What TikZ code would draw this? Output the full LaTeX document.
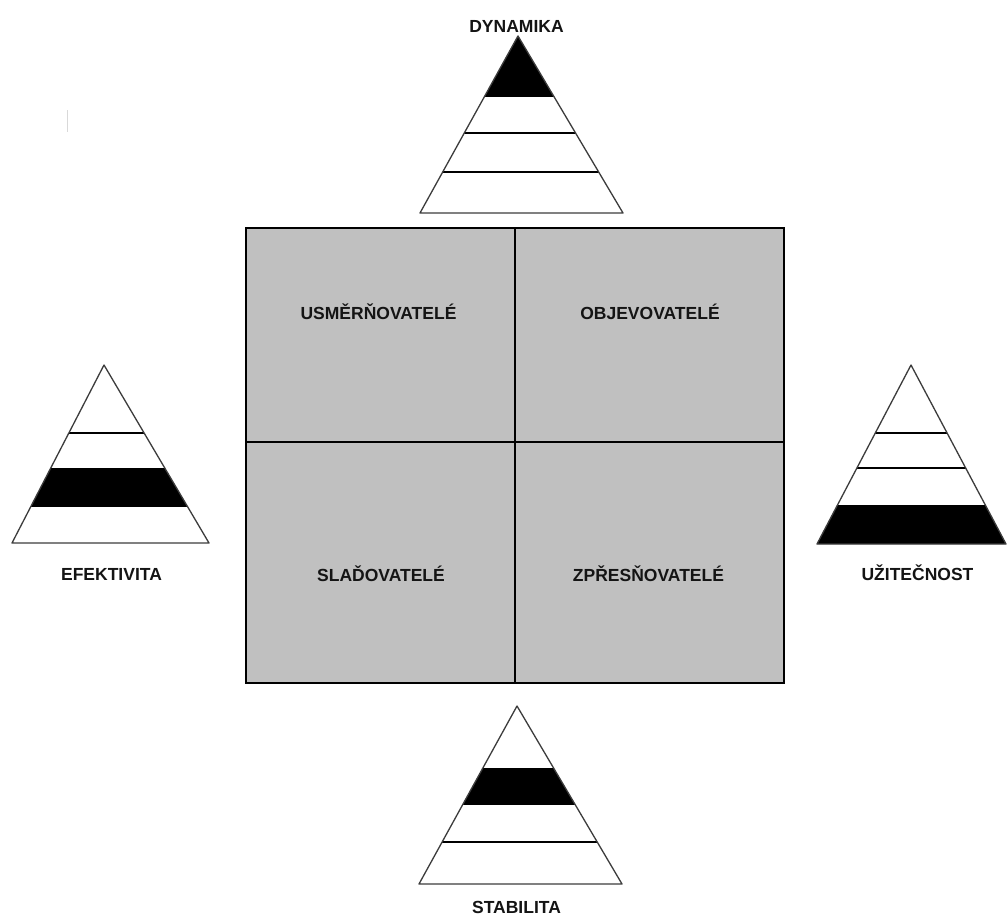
\documentclass[tikz,border=0pt]{standalone}
\usepackage{fontspec}
\setmainfont{Liberation Sans}
\definecolor{boxgray}{RGB}{192,192,192}
\definecolor{tri}{RGB}{60,60,60}
\begin{document}
\begin{tikzpicture}[x=1pt,y=-1pt,
  lbl/.style={font=\fontsize{17.5}{20}\selectfont\bfseries, inner sep=0pt, anchor=base, text=black!92},
  triline/.style={draw=tri, line width=1.3pt, line join=round},
  band/.style={line width=1.5pt, black}]
\useasboundingbox (0,0) rectangle (1007,918);
\fill[white] (0,0) rectangle (1007,918);
% faint mark
\draw[black!15, line width=1pt] (67,110) -- (67,132);

% central square
\node[draw=black, line width=2.5pt, fill=boxgray, minimum width=538pt, minimum height=455pt, inner sep=0pt] (sq) at (515,455.5) {};
\coordinate (vt) at (515,228);
\coordinate (vb) at (515,683);
\coordinate (hl) at (246,442);
\coordinate (hr) at (784,442);
\draw[line width=2pt] (vt) -- (vb);
\draw[line width=2pt] (hl) -- (hr);
\node[lbl] (q1) at (378.5,319.5) {USMĚRŇOVATELÉ};
\node[lbl] (q2) at (650,319.5) {OBJEVOVATELÉ};
\node[lbl] (q3) at (381,581) {SLAĎOVATELÉ};
\node[lbl] (q4) at (648.5,581) {ZPŘESŇOVATELÉ};

% top triangle (DYNAMIKA)
\begin{scope}
\clip (518,36) -- (623,213) -- (420,213) -- cycle;
\fill[black] (400,30) rectangle (640,97);
\draw[band] (400,133) -- (640,133);
\draw[band] (400,172) -- (640,172);
\end{scope}
\draw[triline] (518,36) -- (623,213) -- (420,213) -- cycle;
\node[lbl] (dyn) at (516.5,32) {DYNAMIKA};

% left triangle (EFEKTIVITA)
\begin{scope}
\clip (104,365) -- (209,543) -- (12,543) -- cycle;
\fill[black] (0,468) rectangle (220,507);
\draw[band] (0,433) -- (220,433);
\end{scope}
\draw[triline] (104,365) -- (209,543) -- (12,543) -- cycle;
\node[lbl] (efe) at (111.5,580.5) {EFEKTIVITA};

% right triangle (UŽITEČNOST)
\begin{scope}
\clip (911,365) -- (1006,544) -- (817,544) -- cycle;
\fill[black] (800,505) rectangle (1007,545);
\draw[band] (800,433) -- (1007,433);
\draw[band] (800,468) -- (1007,468);
\end{scope}
\draw[triline] (911,365) -- (1006,544) -- (817,544) -- cycle;
\node[lbl] (uzi) at (917.5,580) {UŽITEČNOST};

% bottom triangle (STABILITA)
\begin{scope}
\clip (517,706) -- (622,884) -- (419,884) -- cycle;
\fill[black] (400,768) rectangle (640,805);
\draw[band] (400,842) -- (640,842);
\end{scope}
\draw[triline] (517,706) -- (622,884) -- (419,884) -- cycle;
\node[lbl] (sta) at (516.5,913) {STABILITA};
\end{tikzpicture}
\end{document}
